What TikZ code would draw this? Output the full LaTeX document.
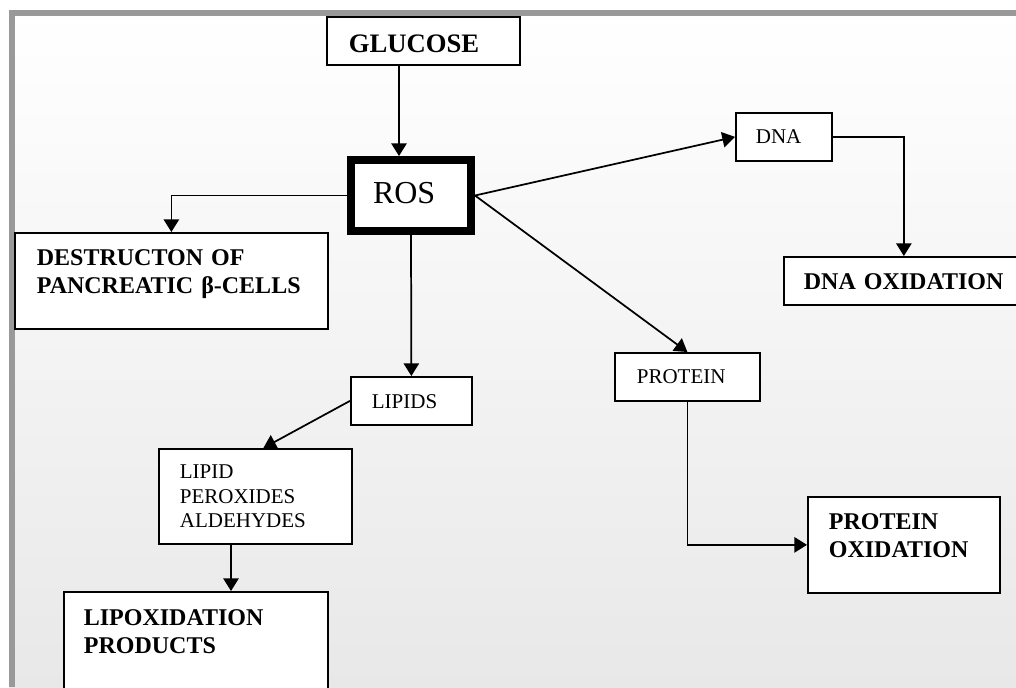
\documentclass[tikz,border=0pt]{standalone}
\usepackage{fontspec}
\setmainfont{Liberation Serif}
\usetikzlibrary{arrows.meta,calc}

\begin{document}
\begin{tikzpicture}[x=0.75pt, y=-0.75pt,
    box/.style={draw, fill=white, line width=1.3pt, anchor=north west, inner ysep=0pt, align=left},
    bold/.style={font=\fontsize{18pt}{21pt}\selectfont\bfseries},
    plain/.style={font=\fontsize{15.75pt}{18.4pt}\selectfont},
    arr/.style={-{Triangle[length=9.5pt,width=11.5pt]}, line width=1.3pt},
  ]
    \useasboundingbox (0,0) rectangle (1016,687);
    % frame and background
    \shade[top color=white, bottom color=black!9] (9,10) rectangle (1016,687);
    \draw[line width=4.2pt, black!40] (1016,12.8) -- (11.8,12.8) -- (11.8,687);

    \node[box, font=\fontsize{20pt}{24pt}\selectfont\bfseries, inner xsep=16.5pt, text width=111.75pt, text height=27pt, text depth=9pt] (glucose) at (326,16) {GLUCOSE};
    \node[box, line width=6pt, inner xsep=16.5pt, text width=57pt, text height=32.25pt, text depth=21pt, font=\fontsize{24pt}{28pt}\selectfont] (ros) at (347,156) {ROS};
    \node[box, bold, inner xsep=16.5pt, text width=201.75pt, text height=24.75pt, text depth=47.25pt] (destr) at (14,232) {DESTRUCTON OF\\PANCREATIC~β-CELLS};
    \node[box, plain, inner xsep=15.75pt, text width=59.25pt, text height=24pt, text depth=12pt] (lipids) at (350,376) {LIPIDS};
    \node[box, plain, inner xsep=15.75pt, text width=113.25pt, text height=22.5pt, text depth=48.75pt] (perox) at (158,448) {LIPID\\PEROXIDES\\ALDEHYDES};
    \node[box, bold, inner xsep=15pt, text width=168pt, text height=25.5pt, text depth=56.25pt] (lipox) at (63,591) {LIPOXIDATION\\PRODUCTS};
    \node[box, plain, inner xsep=15pt, text width=42pt, text height=23.25pt, text depth=12.75pt] (dna) at (735,112) {DNA};
    \node[box, bold, inner xsep=15pt, text width=150pt, text height=24.75pt, text depth=11.25pt] (dnaox) at (783,256) {DNA~OXIDATION};
    \node[box, plain, inner xsep=16.5pt, text width=75.75pt, text height=23.25pt, text depth=12.75pt] (protein) at (614,352) {PROTEIN};
    \node[box, bold, inner xsep=15.75pt, text width=112.5pt, text height=24.75pt, text depth=47.25pt] (protox) at (807,496) {PROTEIN\\OXIDATION};

    \draw[arr] (glucose.south -| 399,0) -- (399,0 |- ros.north);
    \draw[arr] (ros.west) -| (destr.north);
    \draw[arr] (ros.south) -- (lipids.north);
    \draw[arr] (lipids.west) -- ([xshift=6pt]perox.north);
    \draw[arr] (perox.south -| 231,0) -- (231,0 |- lipox.north);
    \draw[arr] (ros.east) -- (dna.west);
    \draw[arr] (dna.east) -| (dnaox.north);
    \draw[arr] (ros.east) -- (protein.north);
    \draw[arr] (protein.south) |- (protox.west);
\end{tikzpicture}
\end{document}
